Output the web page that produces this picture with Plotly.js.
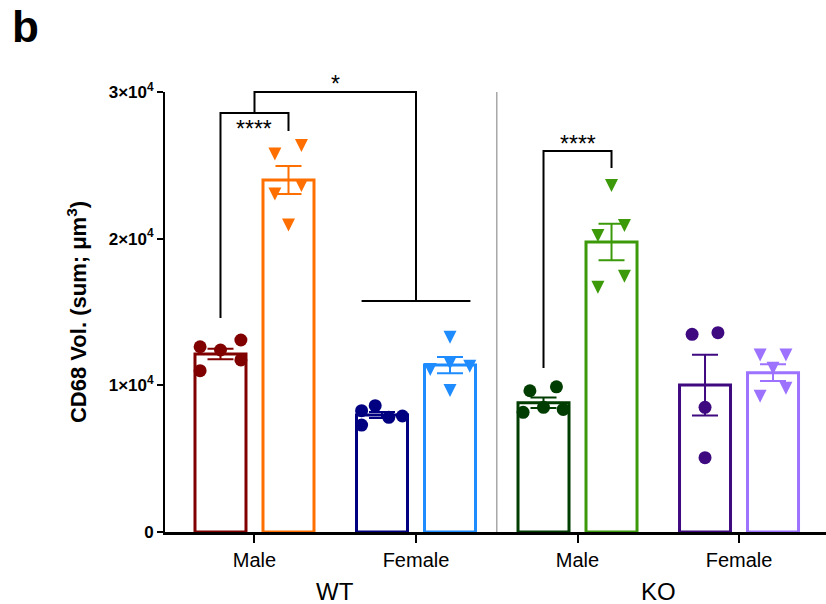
<!DOCTYPE html>
<html>
<head>
<meta charset="utf-8">
<script src="https://cdn.plot.ly/plotly-3.0.1.min.js"></script>
<style>
  html, body { margin: 0; padding: 0; background: #ffffff; }
  #chart { width: 826px; height: 604px; }
</style>
</head>
<body>
<div id="chart"></div>
<script>
// ---------------- data ----------------
const genotypes = ["WT", "KO"];
const sexLabels = ["Male", "Female", "Male", "Female"];
const barLabels = ["WT Male A", "WT Male B", "WT Female A", "WT Female B",
                   "KO Male A", "KO Male B", "KO Female A", "KO Female B"];
const barMeans = [12130, 24000, 7980, 11380, 8810, 19770, 10020, 10860];
const barSEM   = [360, 960, 200, 560, 360, 1250, 2070, 570];

const wtMaleA   = [12630, 12410, 13090, 11730, 11000];
const wtMaleB   = [25920, 26500, 23200, 23770, 21080];
const wtFemaleA = [8270, 8610, 7290, 7820, 7910];
const wtFemaleB = [13430, 11660, 11230, 11450, 9800];
const koMaleA   = [9630, 9900, 8160, 8500, 8360];
const koMaleB   = [23770, 21040, 20360, 17590, 16840];
const koFemaleA = [13480, 13590, 8500, 5070];
const koFemaleB = [12220, 12220, 11320, 9950, 9410];

const yTickVals = [0, 10000, 20000, 30000];
const yTickText = ["0", "1×10<sup>4</sup>", "2×10<sup>4</sup>", "3×10<sup>4</sup>"];

// ---------------- styling / layout helpers ----------------
const pointSets = [wtMaleA, wtMaleB, wtFemaleA, wtFemaleB, koMaleA, koMaleB, koFemaleA, koFemaleB];
const jitter = [
  [-0.3, 0, 0.3, 0.3, -0.3],
  [-0.2, 0.19, -0.2, 0.19, 0],
  [-0.3, -0.1, -0.3, 0.1, 0.3],
  [0, 0, -0.29, 0.29, 0],
  [-0.2, 0.19, -0.3, 0, 0.29],
  [0, 0.19, -0.2, 0.19, -0.2],
  [-0.19, 0.19, 0, 0],
  [-0.19, 0.19, 0, 0.19, -0.19]
];
const barColors = ['#800000', '#FF6F00', '#000080', '#1E8CFF',
                   '#003D00', '#3C9A0A', '#3F0A80', '#9C72FF'];

const groupSpacing = 2.375;
function groupCenter(g) { return 0.5 + groupSpacing * g; }
function barPos(i) { return groupCenter(Math.floor(i / 2)) + (i % 2 ? 0.5 : -0.5); }
const groupCenters = sexLabels.map((_, g) => groupCenter(g));

const xRange = [-0.816, 8.904];
const yRange = [0, 30000];
function px(x) { return (x - xRange[0]) / (xRange[1] - xRange[0]); }
function py(y) { return (y - yRange[0]) / (yRange[1] - yRange[0]); }

const traces = [];
barMeans.forEach((m, i) => {
  traces.push({
    type: 'bar', x: [barPos(i)], y: [m], width: 0.75, name: barLabels[i],
    marker: { color: '#ffffff', line: { color: barColors[i], width: 3 } },
    error_y: { type: 'data', array: [barSEM[i]], visible: true,
               color: barColors[i], thickness: 2, width: 13 },
    showlegend: false, hoverinfo: 'skip'
  });
});
pointSets.forEach((vals, i) => {
  const tri = i % 2 === 1;
  traces.push({
    type: 'scatter', mode: 'markers',
    x: vals.map((v, j) => barPos(i) + jitter[i][j]), y: vals,
    name: barLabels[i] + ' points',
    marker: { symbol: tri ? 'arrow-down' : 'circle', size: 13,
              color: barColors[i], standoff: tri ? 8.67 : 0,
              line: { width: 0 } },
    cliponaxis: false, showlegend: false, hoverinfo: 'skip'
  });
});

// significance brackets (paper coordinates computed from data units)
function pathFrom(pts) {
  return pts.map((p, k) => (k ? 'L' : 'M') + px(p[0]).toFixed(5) + ',' + py(p[1]).toFixed(5)).join(' ');
}
const blk = { color: '#000000', width: 2 };
const shapes = [
  { type: 'path', xref: 'paper', yref: 'paper', line: blk,
    path: pathFrom([[barPos(0), 14590], [barPos(0), 28560], [barPos(1), 28560], [barPos(1), 27335]]) },
  { type: 'path', xref: 'paper', yref: 'paper', line: blk,
    path: pathFrom([[groupCenter(0), 28560], [groupCenter(0), 30000], [groupCenter(1), 30000], [groupCenter(1), 15750]]) },
  { type: 'path', xref: 'paper', yref: 'paper', line: blk,
    path: pathFrom([[groupCenter(1) - 0.8, 15750], [groupCenter(1) + 0.8, 15750]]) },
  { type: 'path', xref: 'paper', yref: 'paper', line: blk,
    path: pathFrom([[barPos(4), 11180], [barPos(4), 25970], [barPos(5), 25970], [barPos(5), 24815]]) },
  { type: 'line', xref: 'paper', yref: 'paper',
    x0: px((groupCenter(1) + groupCenter(2)) / 2), x1: px((groupCenter(1) + groupCenter(2)) / 2),
    y0: 0, y1: 1, line: { color: '#A8A8A8', width: 1.5 } }
];

const fam = 'Liberation Sans, Arial, sans-serif';
const starFont = { size: 23, color: '#000', family: fam };
const annotations = [
  { text: '<b>b</b>', xref: 'paper', yref: 'paper', x: (10 - 165) / 661, y: (532 - 26.5) / 440,
    xanchor: 'left', yanchor: 'middle', showarrow: false,
    font: { size: 44, color: '#000', family: fam } },
  { text: genotypes[0], xref: 'paper', yref: 'paper',
    x: px((groupCenter(0) + groupCenter(1)) / 2), y: 0, yshift: -59,
    xanchor: 'center', yanchor: 'middle', showarrow: false,
    font: { size: 24, color: '#000', family: fam } },
  { text: genotypes[1], xref: 'paper', yref: 'paper',
    x: px((groupCenter(2) + groupCenter(3)) / 2), y: 0, yshift: -59,
    xanchor: 'center', yanchor: 'middle', showarrow: false,
    font: { size: 24, color: '#000', family: fam } },
  { text: '****', xref: 'paper', yref: 'paper', x: px(groupCenter(0)), y: py(27850), yshift: -5,
    xanchor: 'center', yanchor: 'middle', showarrow: false, font: starFont },
  { text: '*', xref: 'paper', yref: 'paper', x: px((groupCenter(0) + groupCenter(1)) / 2), y: py(30880), yshift: -5,
    xanchor: 'center', yanchor: 'middle', showarrow: false, font: starFont },
  { text: '****', xref: 'paper', yref: 'paper', x: px(groupCenter(2)), y: py(26800), yshift: -5,
    xanchor: 'center', yanchor: 'middle', showarrow: false, font: starFont }
];

const layout = {
  width: 826, height: 604,
  margin: { l: 165, r: 0, t: 92, b: 72, pad: 0 },
  paper_bgcolor: '#ffffff', plot_bgcolor: '#ffffff',
  showlegend: false, barmode: 'overlay',
  font: { family: fam, color: '#000000' },
  xaxis: {
    range: xRange, showgrid: false, zeroline: false,
    showline: true, linecolor: '#000', linewidth: 2.5,
    ticks: 'outside', ticklen: 8, tickwidth: 2, tickcolor: '#000',
    tickvals: groupCenters, ticktext: sexLabels,
    tickfont: { size: 20, color: '#000' }, fixedrange: true
  },
  yaxis: {
    range: yRange, showgrid: false, zeroline: false,
    showline: true, linecolor: '#000', linewidth: 2,
    ticks: 'outside', ticklen: 6, tickwidth: 2, tickcolor: '#000',
    tickvals: yTickVals, ticktext: yTickText.map(t => '<b>' + t + '</b>'),
    tickfont: { size: 17, color: '#000' },
    title: { text: '<b>CD68 Vol. (sum; μm<sup>3</sup>)</b>', font: { size: 22, color: '#000' }, standoff: 16 },
    fixedrange: true
  },
  shapes: shapes,
  annotations: annotations
};

Plotly.newPlot('chart', traces, layout, { displayModeBar: false, staticPlot: true });
</script>
</body>
</html>
